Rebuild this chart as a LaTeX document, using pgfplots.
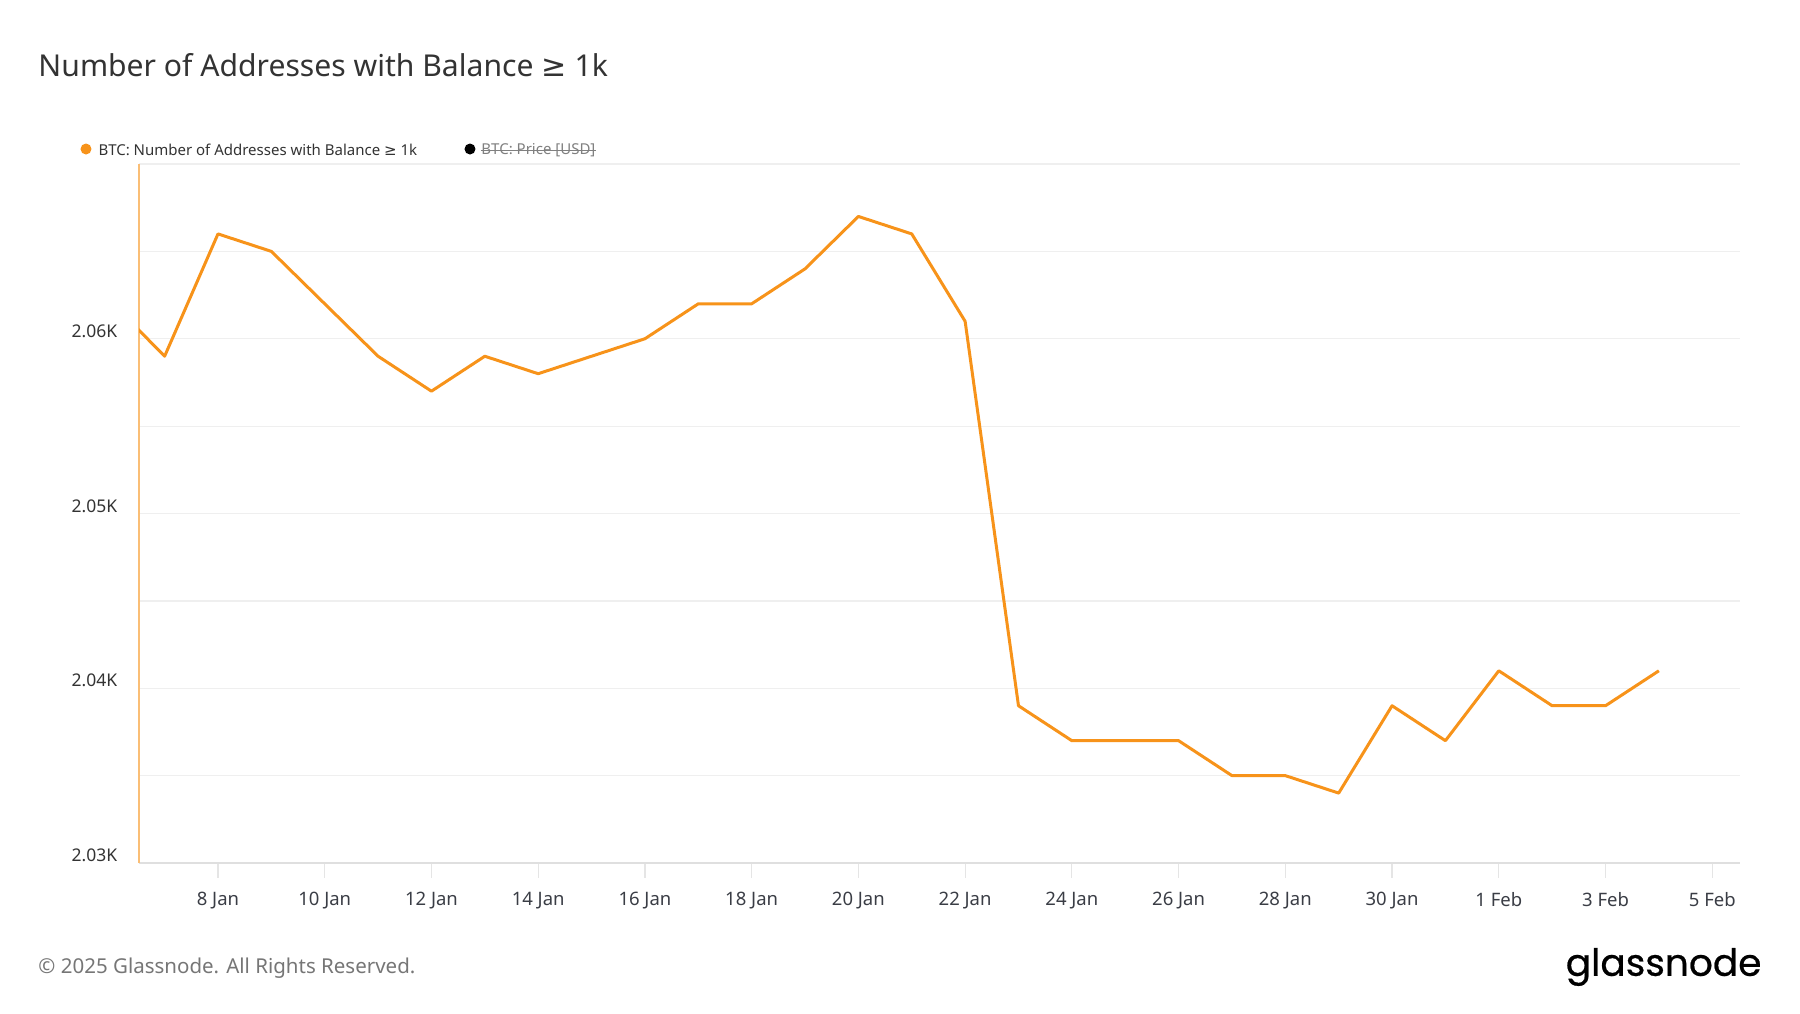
\documentclass[border=0pt]{standalone}
\usepackage{fontspec}
\setmainfont{Noto Sans}
\newfontfamily\logofont{Poppins}[FakeBold=0.6]
\newfontfamily\symfont{DejaVu Sans}
\usepackage{pgfplots}
\pgfplotsset{compat=1.18}
\definecolor{btc}{HTML}{F7931A}
\definecolor{titlec}{HTML}{333333}
\definecolor{tickc}{HTML}{3A3D45}
\definecolor{gridc}{HTML}{EFEFEF}
\definecolor{copyc}{HTML}{767676}
\pgfplotstableread{
x y
6 2062.1
7 2059
8 2066
9 2065
10 2062
11 2059
12 2057
13 2059
14 2058
15 2059
16 2060
17 2062
18 2062
19 2064
20 2067
21 2066
22 2061
23 2039
24 2037
25 2037
26 2037
27 2035
28 2035
29 2034
30 2039
31 2037
32 2041
33 2039
34 2039
35 2041
}\addrdata
\begin{document}
\begin{tikzpicture}
\useasboundingbox (0,0) rectangle (720pt,405.2pt);
\begin{axis}[
  at={(55.6pt,60pt)}, anchor=south west,
  width=640.4pt, height=279.6pt, scale only axis,
  xmin=6.52, xmax=36.52, ymin=2030, ymax=2070,
  axis x line*=bottom, axis y line*=left,
  x axis line style={draw=gray!25, line width=0.5pt, -},
  y axis line style={draw=btc!60, line width=0.6pt, -},
  xtick={8,10,...,36},
  xticklabels={8 Jan,10 Jan,12 Jan,14 Jan,16 Jan,18 Jan,20 Jan,22 Jan,24 Jan,26 Jan,28 Jan,30 Jan,1 Feb,3 Feb,5 Feb},
  ytick={2030,2035,...,2070},
  yticklabels={2.03K,,2.04K,,2.05K,,2.06K,,},
  ymajorgrids, major grid style={draw=gridc, line width=0.5pt},
  tick align=outside,
  xtick style={draw=gray!20, line width=0.5pt},
  x tick label style={font=\fontsize{7.4}{8}\selectfont, text=tickc, yshift=-3.8pt},
  y tick label style={font=\fontsize{7}{8}\selectfont, text=titlec, yshift=3pt, xshift=-0.9pt},
  major x tick style={/pgfplots/major tick length=6pt},
  major y tick style={/pgfplots/major tick length=0pt, draw=none},
  /pgf/number format/assume math mode=true,
  clip=true,
]
\addplot[btc, line width=1.2pt, line join=round] table[x=x,y=y]{\addrdata};
\end{axis}
\begin{scope}[x=0.4pt,y=0.4pt]
\node[anchor=base west, text=titlec, font=\fontsize{12.05}{14}\selectfont, inner sep=0] at (38,937) {Number of Addresses with Balance {\symfont ≥} 1k};
\fill[btc] (86,864) circle (2.2pt);
\node[anchor=west, text=titlec, font=\fontsize{6}{7}\selectfont, inner sep=0] at (98,863) {BTC: Number of Addresses with Balance {\symfont ≥} 1k};
\fill[black] (470,864) circle (2.2pt);
\node[anchor=west, text=gray, font=\fontsize{6}{7}\selectfont, inner sep=0] (pr) at (481,863) {BTC: Price [USD]};
\draw[gray, line width=0.4pt] (pr.west) -- (pr.east);
\node[anchor=west, text=copyc, font=\fontsize{8.2}{10}\selectfont, inner sep=0] at (38,45) {© 2025 Glassnode. All Rights Reserved.};
\node[anchor=east, text=black, font=\logofont\fontsize{15}{17}\selectfont, inner sep=0] at (1762,46) {glassnode};
\end{scope}
\end{tikzpicture}
\end{document}
